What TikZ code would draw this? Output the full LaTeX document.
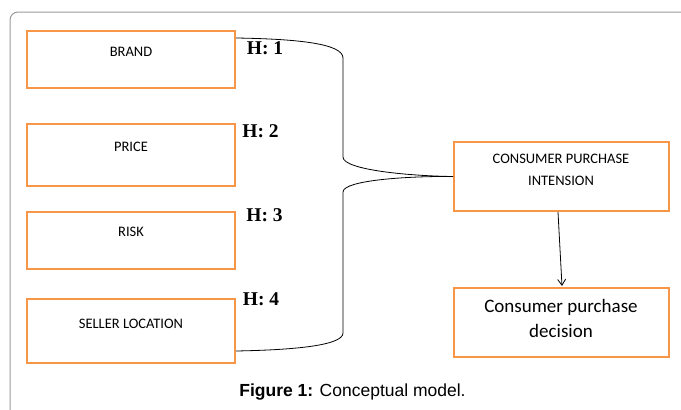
\documentclass[tikz,border=0pt]{standalone}
\usepackage{fontspec}
\setmainfont{Liberation Serif}
\newfontfamily\boxfont{Carlito}
\newfontfamily\capfont{Liberation Sans}
\usetikzlibrary{arrows.meta}
\definecolor{boxorange}{HTML}{F79646}
\definecolor{framegrey}{HTML}{9A9A9A}
\tikzset{
  box/.style={draw=boxorange, line width=2pt, rectangle, inner sep=0pt},
  boxtext/.style={inner sep=0pt, font=\boxfont\fontsize{14.5}{22}\selectfont, align=center},
  bigtext/.style={inner sep=0pt, font=\boxfont\fontsize{19}{25}\selectfont, align=center},
  hlabel/.style={inner sep=0pt, font=\bfseries\fontsize{19.5}{22}\selectfont},
  link/.style={draw=black, line width=0.8pt},
}
\begin{document}
\begin{tikzpicture}[x=1pt,y=-1pt]
\useasboundingbox (0,0) rectangle (681,410);
% frame
\draw[framegrey, line width=1pt, rounded corners=8pt] (10,412) -- (10,12) -- (683,12);
% left boxes
\node[box, minimum width=208pt, minimum height=57pt] (brand) at (131,59.5) {};
\node[boxtext] (brandt) at (131,52) {BRAND};
\node[box, minimum width=208pt, minimum height=62pt] (price) at (131,155) {};
\node[boxtext] (pricet) at (131,147) {PRICE};
\node[box, minimum width=208pt, minimum height=57pt] (risk) at (131,240.5) {};
\node[boxtext] (riskt) at (131,232) {RISK};
\node[box, minimum width=208pt, minimum height=64pt] (seller) at (131,331) {};
\node[boxtext] (sellert) at (131,324) {SELLER LOCATION};
% right boxes
\node[box, minimum width=215pt, minimum height=69pt] (cpi) at (561.5,176.5) {};
\node[boxtext] (cpit) at (561,169.5) {CONSUMER PURCHASE\\INTENSION};
\node[box, minimum width=215pt, minimum height=69pt] (cpd) at (561.5,322.5) {};
\node[bigtext] (cpdt) at (561,318) {Consumer purchase\\decision};
% hypothesis labels
\node[hlabel] (h1) at (265,48) {H: 1};
\node[hlabel] (h2) at (260.5,131) {H: 2};
\node[hlabel] (h3) at (264.5,215) {H: 3};
\node[hlabel] (h4) at (261,299) {H: 4};
% brace connectors
\coordinate (topend) at ([yshift=-8pt]brand.north east);
\coordinate (botend) at ([yshift=13pt]seller.south east);
\draw[link] (topend) .. controls (300,39) and (343,44) .. (343,58)
  -- (343,157) .. controls (343,170) and (410,176) .. (cpi.west);
\draw[link] (cpi.west) .. controls (410,176) and (343,180) .. (343,192)
  -- (343,333) .. controls (343,346) and (290,350) .. (botend);
% arrow
\draw[link, -{Straight Barb[length=6pt,width=8pt]}] ([xshift=-3.5pt]cpi.south) -- ([xshift=0.5pt, yshift=1pt]cpd.north);
% caption
\node[inner sep=0pt, anchor=base, font=\capfont\fontsize{17.5}{20}\selectfont] (cap) at (352.5,396) {\textbf{Figure 1:} Conceptual model.};
\end{tikzpicture}
\end{document}
